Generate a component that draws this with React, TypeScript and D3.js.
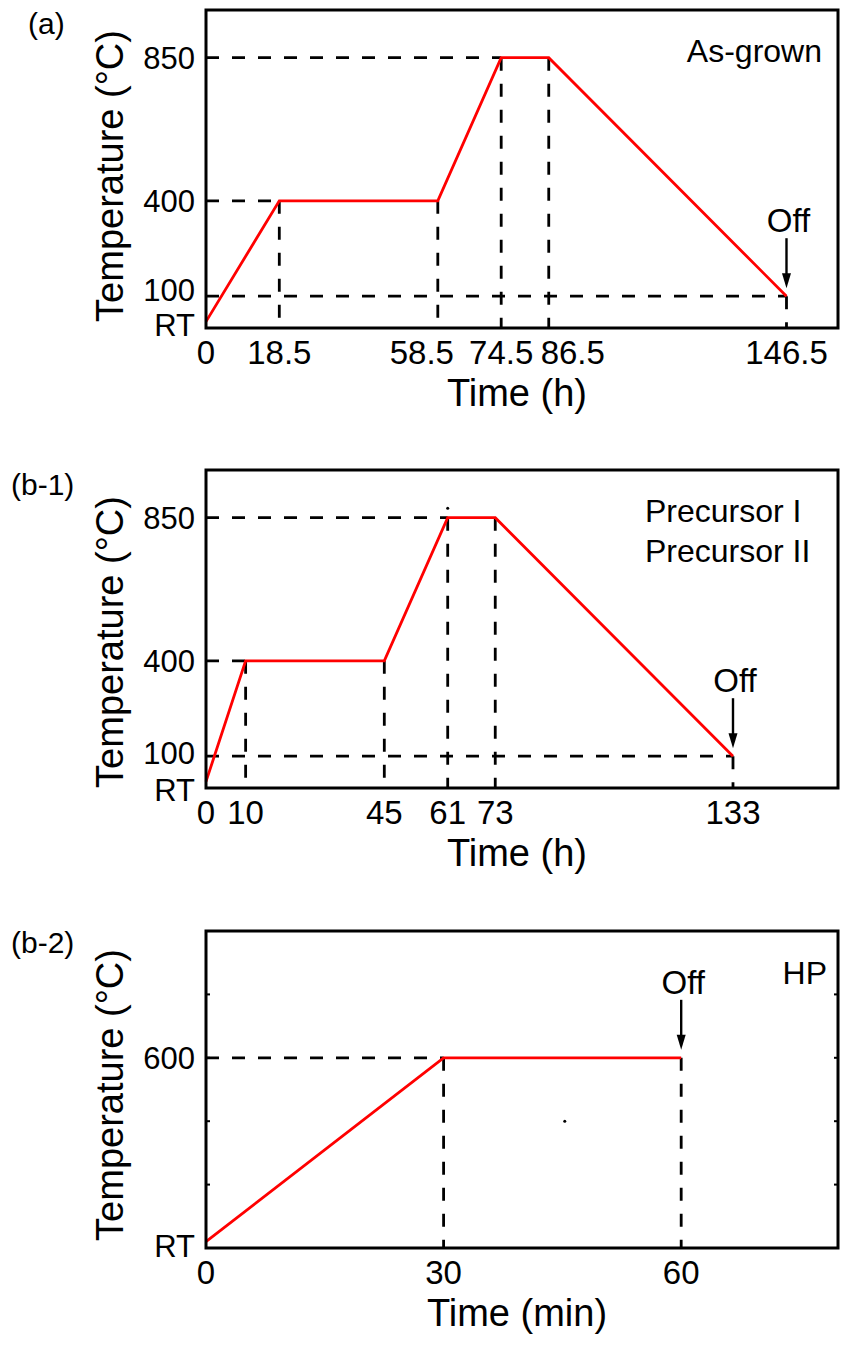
import React from "react";
import * as d3 from "d3";

// ---------- data ----------
const RT_VALUE = 20; // room temperature position on the temperature axis

// (a) As-grown
const aTime = [0, 18.5, 58.5, 74.5, 86.5, 146.5];
const aTemp = [RT_VALUE, 400, 400, 850, 850, 100];
const aXTicks = [0, 18.5, 58.5, 74.5, 86.5, 146.5];
const aYTickValues = [RT_VALUE, 100, 400, 850];
const aYTickLabels = ["RT", "100", "400", "850"];

// (b-1) Precursor I / II
const b1Time = [0, 10, 45, 61, 73, 133];
const b1Temp = [RT_VALUE, 400, 400, 850, 850, 100];
const b1XTicks = [0, 10, 45, 61, 73, 133];
const b1YTickValues = [RT_VALUE, 100, 400, 850];
const b1YTickLabels = ["RT", "100", "400", "850"];

// (b-2) HP
const b2Time = [0, 30, 60];
const b2Temp = [RT_VALUE, 600, 600];
const b2XTicks = [0, 30, 60];
const b2YTickValues = [RT_VALUE, 600];
const b2YTickLabels = ["RT", "600"];
const b2MinorYTicks = [200, 400, 600, 800];

const FONT = "'Liberation Sans', Arial, Helvetica, sans-serif";

type PanelProps = {
  top: number;
  bottom: number;
  xMax: number;
  time: number[];
  temp: number[];
  xTicks: number[];
  yTickValues: number[];
  yTickLabels: string[];
  minorY?: number[];
  panelLabel: string;
  panelLabelX: number;
  panelLabelY: number;
  annotation: string[];
  annoX: number;
  annoY: number;
  annoAnchor: "start" | "end";
  xTitle: string;
  yTitleCenter: number;
  labelDy?: Record<string, number>;
  labelDx?: Record<string, number>;
  stray?: [number, number][];
};

const LEFT = 206;
const RIGHT = 838;

function Panel(p: PanelProps) {
  const x = d3.scaleLinear().domain([0, p.xMax]).range([LEFT, RIGHT]);
  const y = d3.scaleLinear().domain([0, 1000]).range([p.bottom, p.top]);
  const pts = p.time.map((t, i) => [t, p.temp[i]] as [number, number]);
  const line = d3
    .line<[number, number]>()
    .x((d) => x(d[0]))
    .y((d) => y(d[1]));

  const verticals = pts.slice(1);
  const horizontals = pts.filter((d, i) => i > 0 && d[1] !== pts[i - 1][1]);
  const last = pts[pts.length - 1];
  const lx = x(last[0]);
  const ly = y(last[1]);
  const fmt = d3.format("~f");

  return (
    <g>
      <text x={p.panelLabelX} y={p.panelLabelY} fontSize={30} fontFamily={FONT}>
        {p.panelLabel}
      </text>
      {/* dashed guides */}
      {horizontals.map((d, i) => (
        <line
          key={"h" + i}
          x1={LEFT}
          x2={x(d[0])}
          y1={y(d[1])}
          y2={y(d[1])}
          stroke="#000"
          strokeWidth={2.8}
          strokeDasharray="13,13"
        />
      ))}
      {verticals.map((d, i) => (
        <line
          key={"v" + i}
          x1={x(d[0])}
          x2={x(d[0])}
          y1={y(d[1])}
          y2={p.bottom}
          stroke="#000"
          strokeWidth={2.8}
          strokeDasharray="13,13"
        />
      ))}
      {/* minor ticks */}
      {(p.minorY || []).map((v, i) => (
        <g key={"m" + i}>
          <line x1={LEFT} x2={LEFT + 4} y1={y(v)} y2={y(v)} stroke="#000" strokeWidth={2} />
          <line x1={RIGHT - 4} x2={RIGHT} y1={y(v)} y2={y(v)} stroke="#000" strokeWidth={2} />
        </g>
      ))}
      {/* profile */}
      <path d={line(pts) || ""} fill="none" stroke="#ff0000" strokeWidth={2.8} />
      {(p.stray || []).map((d, i) => (
        <circle key={"s" + i} cx={x(d[0])} cy={y(d[1])} r={1.5} fill="#000" />
      ))}
      {/* frame */}
      <rect
        x={LEFT}
        y={p.top}
        width={RIGHT - LEFT}
        height={p.bottom - p.top}
        fill="none"
        stroke="#000"
        strokeWidth={3}
      />
      {/* Off arrow */}
      <text x={lx + 2} y={ly - 64} fontSize={33} fontFamily={FONT} textAnchor="middle">
        Off
      </text>
      <line x1={lx} x2={lx} y1={ly - 58} y2={ly - 20} stroke="#000" strokeWidth={2.4} />
      <path d={`M${lx - 4.5},${ly - 23} L${lx + 4.5},${ly - 23} L${lx},${ly - 8} Z`} fill="#000" />
      {/* y tick labels */}
      {p.yTickValues.map((v, i) => (
        <text
          key={"yl" + i}
          x={195}
          y={y(v) + (p.labelDy?.[p.yTickLabels[i]] ?? 0)}
          dy="0.36em"
          fontSize={31}
          fontFamily={FONT}
          textAnchor="end"
        >
          {p.yTickLabels[i]}
        </text>
      ))}
      {/* x tick labels */}
      {p.xTicks.map((v, i) => (
        <text
          key={"xl" + i}
          x={x(v) + (p.labelDx?.[fmt(v)] ?? 0)}
          y={p.bottom + 36}
          fontSize={33}
          fontFamily={FONT}
          textAnchor="middle"
        >
          {fmt(v)}
        </text>
      ))}
      {/* axis titles */}
      <text x={517} y={p.bottom + 78} fontSize={38} fontFamily={FONT} textAnchor="middle">
        {p.xTitle}
      </text>
      <text
        transform={`translate(123,${p.yTitleCenter}) rotate(-90)`}
        fontSize={38}
        fontFamily={FONT}
        textAnchor="middle"
      >
        Temperature (°C)
      </text>
      {/* annotation */}
      {p.annotation.map((s, i) => (
        <text
          key={"an" + i}
          x={p.annoX}
          y={p.annoY + i * 40}
          fontSize={32}
          fontFamily={FONT}
          textAnchor={p.annoAnchor}
        >
          {s}
        </text>
      ))}
    </g>
  );
}

export default function App() {
  return (
    <svg
      width={842}
      height={1349}
      style={{ position: "absolute", left: 0, top: 0, background: "#fff" }}
    >
      <rect width={842} height={1349} fill="#fff" />
      <Panel
        top={10}
        bottom={328}
        xMax={159.5}
        time={aTime}
        temp={aTemp}
        xTicks={aXTicks}
        yTickValues={aYTickValues}
        yTickLabels={aYTickLabels}
        panelLabel="(a)"
        panelLabelX={28}
        panelLabelY={34}
        annotation={["As-grown"]}
        annoX={822}
        annoY={62}
        annoAnchor="end"
        xTitle="Time (h)"
        yTitleCenter={176}
        labelDy={{ "100": -6, RT: 3 }}
        labelDx={{ "58.5": -16, "86.5": 24 }}
      />
      <Panel
        top={470}
        bottom={788}
        xMax={159.5}
        time={b1Time}
        temp={b1Temp}
        xTicks={b1XTicks}
        yTickValues={b1YTickValues}
        yTickLabels={b1YTickLabels}
        panelLabel="(b-1)"
        panelLabelX={11}
        panelLabelY={495}
        annotation={["Precursor I", "Precursor II"]}
        annoX={645}
        annoY={522}
        annoAnchor="start"
        xTitle="Time (h)"
        yTitleCenter={642}
        labelDy={{ "100": -3, RT: 8 }}
        stray={[[61, 880]]}
      />
      <Panel
        top={931}
        bottom={1248}
        xMax={79.8}
        time={b2Time}
        temp={b2Temp}
        xTicks={b2XTicks}
        yTickValues={b2YTickValues}
        yTickLabels={b2YTickLabels}
        minorY={b2MinorYTicks}
        panelLabel="(b-2)"
        panelLabelX={11}
        panelLabelY={953}
        annotation={["HP"]}
        annoX={827}
        annoY={984}
        annoAnchor="end"
        xTitle="Time (min)"
        yTitleCenter={1095}
        labelDy={{ RT: 4 }}
        stray={[[45.3, 400]]}
      />
    </svg>
  );
}
